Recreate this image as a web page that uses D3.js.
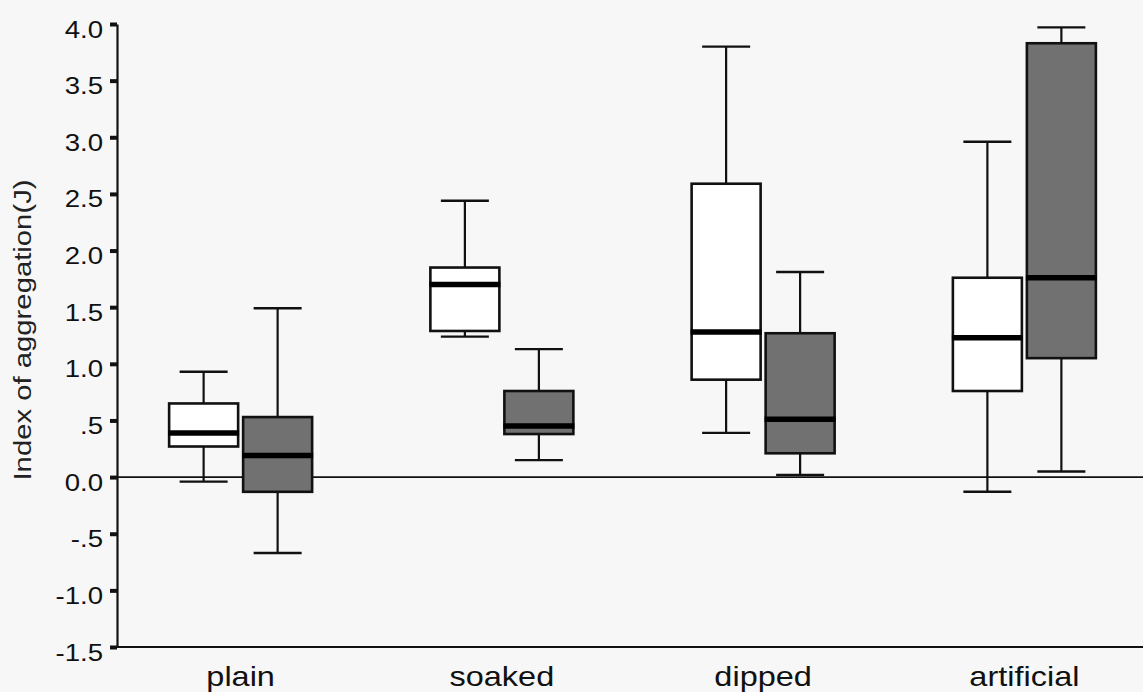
<!DOCTYPE html>
<html>
<head>
<meta charset="utf-8">
<script src="https://cdn.jsdelivr.net/npm/d3@7"></script>
<style>
  html, body { margin: 0; padding: 0; background: #f7f7f7; }
  svg { display: block; }
  text { font-family: "Liberation Sans", Arial, sans-serif; fill: #111; }
</style>
</head>
<body>
<svg id="chart" width="1143" height="692"></svg>
<script>
// Treatment groups along the x axis
const categories = ["plain", "soaked", "dipped", "artificial"];
// Two box series per treatment: open boxes and shaded boxes
const seriesKeys = ["open", "shaded"];

// Five-number summaries [min, q1, median, q3, max] per treatment
const openValues = [
  [-0.04, 0.27, 0.39, 0.65, 0.93],
  [1.24, 1.29, 1.70, 1.85, 2.44],
  [0.39, 0.86, 1.28, 2.59, 3.80],
  [-0.13, 0.76, 1.23, 1.76, 2.96]
];
const shadedValues = [
  [-0.67, -0.13, 0.19, 0.53, 1.49],
  [0.15, 0.38, 0.45, 0.76, 1.13],
  [0.02, 0.21, 0.51, 1.27, 1.81],
  [0.05, 1.05, 1.76, 3.83, 3.97]
];

// Y axis ticks and their printed labels
const yTicks = [4.0, 3.5, 3.0, 2.5, 2.0, 1.5, 1.0, 0.5, 0.0, -0.5, -1.0, -1.5];
const yTickLabels = ["4.0", "3.5", "3.0", "2.5", "2.0", "1.5", "1.0", ".5", "0.0", "-.5", "-1.0", "-1.5"];
const yTitle = "Index of aggregation(J)";

const W = 1143, H = 692;
const axisX = 117;
const svg = d3.select("#chart");

svg.append("rect").attr("width", W).attr("height", H).attr("fill", "#f7f7f7");

const y = d3.scaleLinear().domain([-1.5, 4.0]).range([647, 24]);
const x = d3.scaleBand().domain(categories).range([110, 1155]).padding(0);
const xSub = d3.scaleBand().domain(seriesKeys).range([-74, 74]).padding(0);
const boxW = 69, capW = 48;

const rows = [];
categories.forEach((c, i) => {
  rows.push({ cat: c, key: "open", v: openValues[i] });
  rows.push({ cat: c, key: "shaded", v: shadedValues[i] });
});

// zero reference line
svg.append("line")
  .attr("x1", axisX).attr("x2", W)
  .attr("y1", y(0)).attr("y2", y(0))
  .attr("stroke", "#111").attr("stroke-width", 1.8);

// boxes
const g = svg.append("g");
const box = g.selectAll("g.box").data(rows).join("g")
  .attr("class", "box")
  .attr("transform", d => `translate(${x(d.cat) + x.bandwidth() / 2 + xSub(d.key) + xSub.bandwidth() / 2},0)`);

// whiskers
box.append("line")
  .attr("x1", 0).attr("x2", 0)
  .attr("y1", d => y(d.v[4])).attr("y2", d => y(d.v[3]))
  .attr("stroke", "#111").attr("stroke-width", 2.2);
box.append("line")
  .attr("x1", 0).attr("x2", 0)
  .attr("y1", d => y(d.v[1])).attr("y2", d => y(d.v[0]))
  .attr("stroke", "#111").attr("stroke-width", 2.2);
// caps
[0, 4].forEach(k => {
  box.append("line")
    .attr("x1", -capW / 2).attr("x2", capW / 2)
    .attr("y1", d => y(d.v[k])).attr("y2", d => y(d.v[k]))
    .attr("stroke", "#111").attr("stroke-width", 2.4);
});
// box body
box.append("rect")
  .attr("x", -boxW / 2).attr("width", boxW)
  .attr("y", d => y(d.v[3]))
  .attr("height", d => y(d.v[1]) - y(d.v[3]))
  .attr("fill", d => d.key === "open" ? "#ffffff" : "#717171")
  .attr("stroke", "#111").attr("stroke-width", 2.6);
// median
box.append("line")
  .attr("x1", -boxW / 2 - 1).attr("x2", boxW / 2 + 1)
  .attr("y1", d => y(d.v[2])).attr("y2", d => y(d.v[2]))
  .attr("stroke", "#000").attr("stroke-width", 5.5);

// y axis
const yAxis = d3.axisLeft(y)
  .tickValues(yTicks)
  .tickFormat((d, i) => yTickLabels[i])
  .tickSizeInner(7).tickSizeOuter(0);
const ya = svg.append("g").attr("transform", `translate(${axisX},0)`).call(yAxis);
ya.select(".domain").attr("stroke", "#111").attr("stroke-width", 2.2);
ya.selectAll(".tick line").attr("stroke", "#111").attr("stroke-width", 4);
ya.selectAll(".tick text")
  .attr("x", null).attr("dy", null)
  .attr("text-anchor", "end")
  .style("font-size", "23px")
  .style("fill", "#111")
  .attr("transform", "translate(-14,13) scale(1.2,1)");

// bottom axis line
svg.append("line")
  .attr("x1", axisX - 1).attr("x2", W)
  .attr("y1", y(-1.5)).attr("y2", y(-1.5))
  .attr("stroke", "#111").attr("stroke-width", 2.2);

// category labels
svg.selectAll("text.cat").data(categories).join("text")
  .attr("class", "cat")
  .attr("text-anchor", "middle")
  .style("font-size", "28px")
  .attr("transform", d => `translate(${x(d) + x.bandwidth() / 2},686) scale(1.16,1)`)
  .text(d => d);

// y title
svg.append("text")
  .attr("text-anchor", "middle")
  .style("font-size", "24px")
  .style("fill", "#222")
  .attr("transform", `translate(31,330) rotate(-90) scale(1.22,1)`)
  .text(yTitle);
</script>
</body>
</html>
